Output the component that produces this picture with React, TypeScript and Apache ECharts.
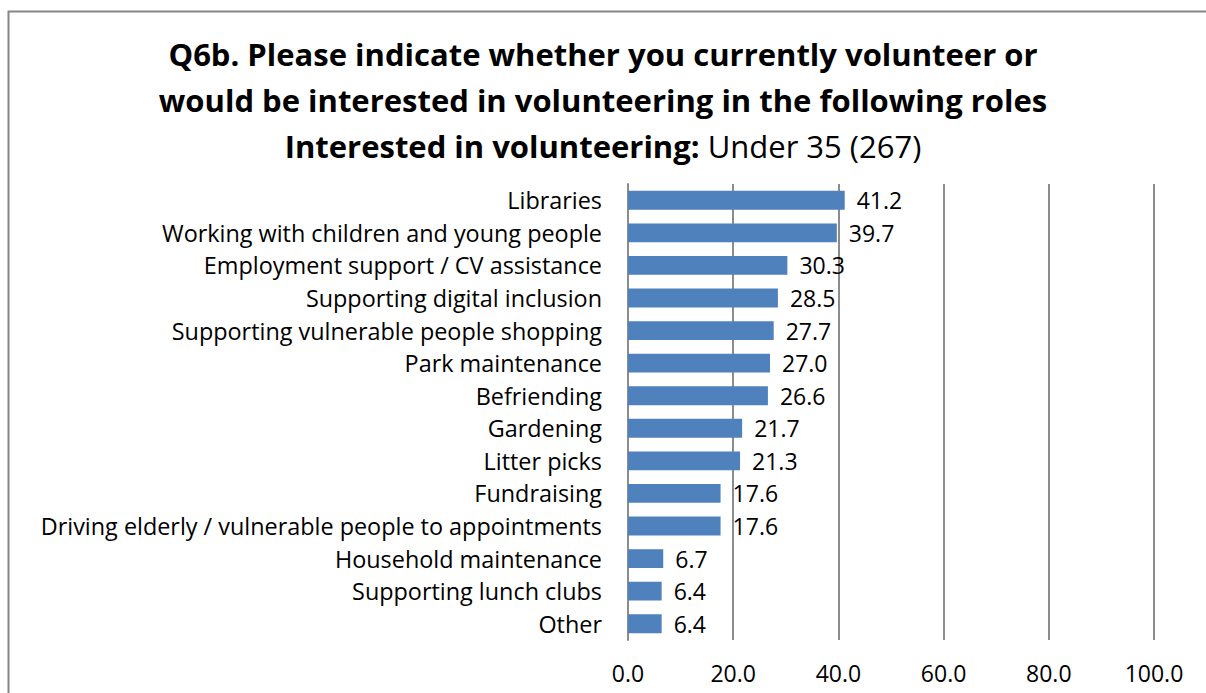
import React, { useEffect, useRef } from "react";
import * as echarts from "echarts";

const categories = [
  "Libraries",
  "Working with children and young people",
  "Employment support / CV assistance",
  "Supporting digital inclusion",
  "Supporting vulnerable people shopping",
  "Park maintenance",
  "Befriending",
  "Gardening",
  "Litter picks",
  "Fundraising",
  "Driving elderly / vulnerable people to appointments",
  "Household maintenance",
  "Supporting lunch clubs",
  "Other",
];
const values = [41.2, 39.7, 30.3, 28.5, 27.7, 27.0, 26.6, 21.7, 21.3, 17.6, 17.6, 6.7, 6.4, 6.4];
const titleLines = [
  "Q6b. Please indicate whether you currently volunteer or",
  "would be interested in volunteering in the following roles",
];
const subtitleBold = "Interested in volunteering:";
const subtitleNormal = " Under 35 (267)";

const FONT = "'Open Sans', Lato, sans-serif";

export default function App() {
  const ref = useRef<HTMLDivElement>(null);
  useEffect(() => {
    if (!ref.current) return;
    const chart = echarts.init(ref.current, undefined, { renderer: "svg" });
    chart.setOption({
      animation: false,
      backgroundColor: "#ffffff",
      textStyle: { fontFamily: FONT },
      title: {
        text: titleLines.join("\n") + "\n{b|" + subtitleBold + "}{n|" + subtitleNormal + "}",
        left: "center",
        top: 26,
        textStyle: {
          fontFamily: FONT,
          fontSize: 31,
          fontWeight: "bold",
          color: "#000",
          lineHeight: 46,
          rich: {
            b: { fontFamily: FONT, fontSize: 31, fontWeight: "bold", color: "#000", lineHeight: 46 },
            n: { fontFamily: FONT, fontSize: 31, fontWeight: "normal", color: "#000", lineHeight: 46 },
          },
        },
      },
      graphic: [
        {
          type: "polyline",
          shape: { points: [[8.5, 700], [8.5, 11.5], [1210, 11.5]] },
          style: { stroke: "#868686", lineWidth: 2, fill: null },
          silent: true,
        },
      ],
      grid: { left: 628, right: 52, top: 184, bottom: 53, containLabel: false },
      xAxis: {
        type: "value",
        min: 0,
        max: 100,
        interval: 20,
        axisLine: { show: false },
        axisTick: { show: false },
        splitLine: { show: true, lineStyle: { color: "#8c8c8c", width: 2 } },
        axisLabel: {
          color: "#000",
          fontFamily: FONT,
          fontSize: 23,
          margin: 21,
          formatter: (v: number) => v.toFixed(1),
        },
      },
      yAxis: {
        type: "category",
        data: categories,
        inverse: true,
        axisLine: { show: true, lineStyle: { color: "#8c8c8c", width: 2 } },
        axisTick: { show: false },
        axisLabel: { color: "#000", fontFamily: FONT, fontSize: 23.4, margin: 26 },
      },
      series: [
        {
          type: "bar",
          data: values,
          barWidth: "58%",
          itemStyle: { color: "#4f81bd" },
          label: {
            show: true,
            position: "right",
            distance: 12,
            color: "#000",
            fontFamily: FONT,
            fontSize: 23,
            formatter: (p: any) => Number(p.value).toFixed(1),
          },
        },
      ],
    });
    return () => chart.dispose();
  }, []);
  return (
    <div
      ref={ref}
      style={{ position: "absolute", left: 0, top: 0, width: 1206, height: 693 }}
    />
  );
}
